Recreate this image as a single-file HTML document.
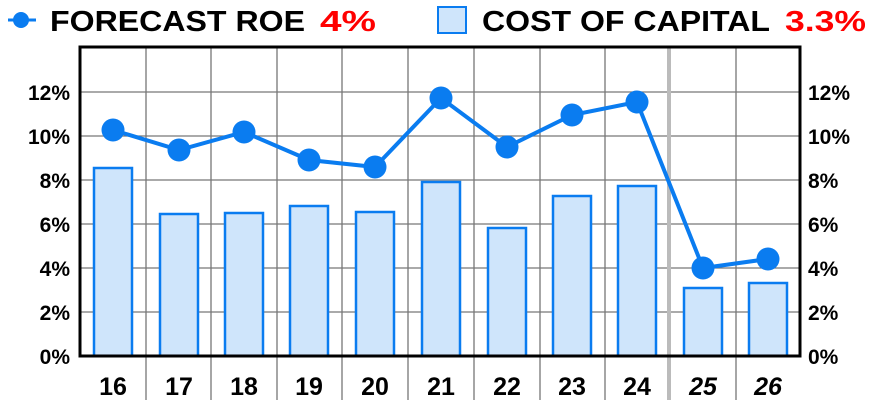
<!DOCTYPE html><html><head><style>body{margin:0;background:#fff}svg{display:block}text{font-family:"Liberation Sans",sans-serif;font-weight:bold}</style></head><body>
<svg width="872" height="408" xmlns="http://www.w3.org/2000/svg">
<line x1="8" y1="20" x2="36" y2="20" stroke="#0a7cf0" stroke-width="3"/><circle cx="21" cy="20" r="8" fill="#0a7cf0"/>
<text x="50" y="31" font-size="29" textLength="255" lengthAdjust="spacingAndGlyphs">FORECAST ROE</text><text x="320" y="31" font-size="29" fill="#f00" textLength="56" lengthAdjust="spacingAndGlyphs">4%</text>
<rect x="438" y="7" width="28" height="26" fill="#cfe5fb" stroke="#0a7cf0" stroke-width="2"/>
<text x="482" y="31" font-size="29" textLength="288" lengthAdjust="spacingAndGlyphs">COST OF CAPITAL</text><text x="785" y="31" font-size="29" fill="#f00" textLength="81" lengthAdjust="spacingAndGlyphs">3.3%</text>
<g stroke="#777" stroke-width="1.3">
<line x1="80" y1="92" x2="800" y2="92"/><line x1="80" y1="136" x2="800" y2="136"/><line x1="80" y1="180" x2="800" y2="180"/><line x1="80" y1="224" x2="800" y2="224"/><line x1="80" y1="268" x2="800" y2="268"/><line x1="80" y1="312" x2="800" y2="312"/>
<line x1="146" y1="47" x2="146" y2="400"/><line x1="211" y1="47" x2="211" y2="400"/><line x1="277" y1="47" x2="277" y2="400"/><line x1="342" y1="47" x2="342" y2="400"/><line x1="408" y1="47" x2="408" y2="400"/><line x1="474" y1="47" x2="474" y2="400"/><line x1="540" y1="47" x2="540" y2="400"/><line x1="605" y1="47" x2="605" y2="400"/><line x1="736" y1="47" x2="736" y2="400"/>
</g>
<line x1="669" y1="47" x2="669" y2="400" stroke="#bbb" stroke-width="4"/>
<g fill="#cfe5fb" stroke="#0a7cf0" stroke-width="2.5">
<rect x="94" y="168" width="38" height="188"/><rect x="160" y="214" width="38" height="142"/><rect x="225" y="213" width="38" height="143"/><rect x="290" y="206" width="38" height="150"/><rect x="356" y="212" width="38" height="144"/><rect x="422" y="182" width="38" height="174"/><rect x="488" y="228" width="38" height="128"/><rect x="553" y="196" width="38" height="160"/><rect x="618" y="186" width="38" height="170"/><rect x="684" y="288" width="38" height="68"/><rect x="749" y="283" width="38" height="73"/>
</g>
<rect x="80" y="47" width="720" height="309" fill="none" stroke="#000" stroke-width="3"/>
<polyline points="113,130 179,150 244,132 309,160 375,167 441,98 507,147 572,115 637,102 703,268 768,259" fill="none" stroke="#0a7cf0" stroke-width="4"/>
<g fill="#0a7cf0"><circle cx="113" cy="130" r="11.5"/><circle cx="179" cy="150" r="11.5"/><circle cx="244" cy="132" r="11.5"/><circle cx="309" cy="160" r="11.5"/><circle cx="375" cy="167" r="11.5"/><circle cx="441" cy="98" r="11.5"/><circle cx="507" cy="147" r="11.5"/><circle cx="572" cy="115" r="11.5"/><circle cx="637" cy="102" r="11.5"/><circle cx="703" cy="268" r="11.5"/><circle cx="768" cy="259" r="11.5"/></g>
<g font-size="21" text-anchor="end"><text x="70" y="100">12%</text><text x="70" y="144">10%</text><text x="70" y="188">8%</text><text x="70" y="232">6%</text><text x="70" y="276">4%</text><text x="70" y="320">2%</text><text x="70" y="364">0%</text></g>
<g font-size="21"><text x="808" y="100">12%</text><text x="808" y="144">10%</text><text x="808" y="188">8%</text><text x="808" y="232">6%</text><text x="808" y="276">4%</text><text x="808" y="320">2%</text><text x="808" y="364">0%</text></g>
<g font-size="25" text-anchor="middle"><text x="113" y="395">16</text><text x="179" y="395">17</text><text x="244" y="395">18</text><text x="309" y="395">19</text><text x="375" y="395">20</text><text x="441" y="395">21</text><text x="507" y="395">22</text><text x="572" y="395">23</text><text x="637" y="395">24</text><text x="703" y="395" font-style="italic">25</text><text x="768" y="395" font-style="italic">26</text></g>
</svg></body></html>
